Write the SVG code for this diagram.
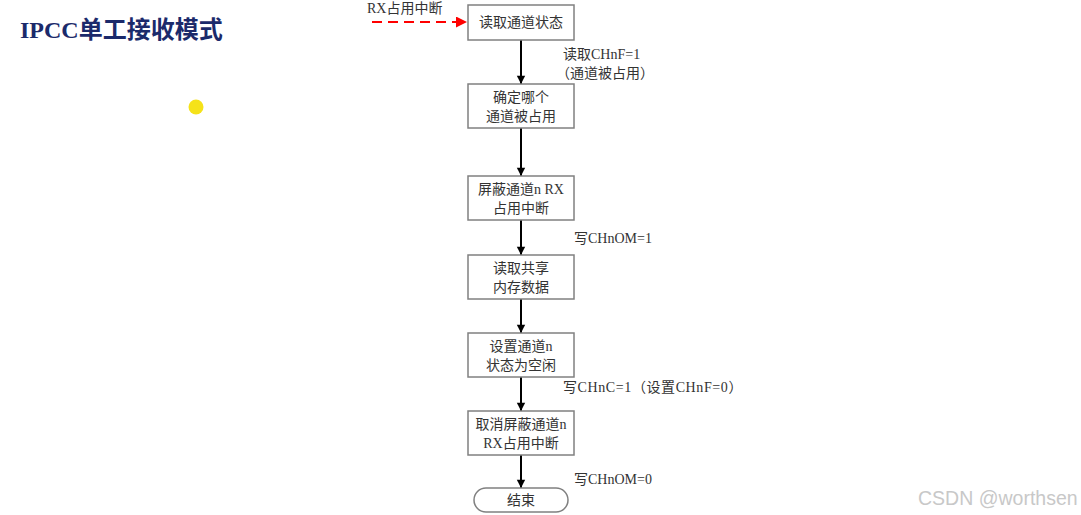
<svg xmlns="http://www.w3.org/2000/svg" width="1081" height="515" viewBox="0 0 1081 515">
<defs>
<marker id="ah" viewBox="0 0 10 12" refX="10" refY="6" markerWidth="12" markerHeight="10" markerUnits="userSpaceOnUse" orient="auto">
<path d="M0,1 L10,6 L0,11 z" fill="#000"/>
</marker>
<marker id="ahr" viewBox="0 0 10 10" refX="10" refY="5" markerWidth="11" markerHeight="11" markerUnits="userSpaceOnUse" orient="auto">
<path d="M0,0 L10,5 L0,10 z" fill="#f00"/>
</marker>
<style>
.box{fill:#fff;stroke:#808080;stroke-width:1.5}
.t{font-family:"Liberation Serif","Noto Sans CJK SC",serif;font-size:14px;fill:#333;text-anchor:middle}
.l{font-family:"Liberation Serif","Noto Sans CJK SC",serif;font-size:14px;fill:#333}
.c{stroke:#000;stroke-width:2;fill:none;marker-end:url(#ah)}
</style>
</defs>
<rect width="1081" height="515" fill="#fff"/>
<text x="20" y="38" font-family="Liberation Serif,'Noto Sans CJK SC',serif" font-size="24" font-weight="bold" fill="#1b2a6b">IPCC单工接收模式</text>
<circle cx="196" cy="107" r="7.5" fill="#f5e219"/>
<g id="connectors">
<line x1="372" y1="22" x2="467" y2="22" stroke="#f00" stroke-width="1.8" stroke-dasharray="10,6" marker-end="url(#ahr)"/>
<line class="c" x1="521" y1="40" x2="521" y2="84"/>
<line class="c" x1="521" y1="128" x2="521" y2="176"/>
<line class="c" x1="521" y1="220" x2="521" y2="255"/>
<line class="c" x1="521" y1="299" x2="521" y2="333"/>
<line class="c" x1="521" y1="377" x2="521" y2="411"/>
<line class="c" x1="521" y1="455" x2="521" y2="488"/>
</g>
<g id="labels">
<text class="l" x="367" y="13">RX占用中断</text>
<text class="l" x="563" y="59">读取CHnF=1</text>
<text class="l" x="556" y="78">（通道被占用）</text>
<text class="l" x="574" y="243">写CHnOM=1</text>
<text class="l" x="563" y="392" letter-spacing="0.6">写CHnC=1（设置CHnF=0）</text>
<text class="l" x="574" y="484">写CHnOM=0</text>
</g>
<g id="n1"><rect class="box" x="468" y="5" width="106" height="35"/><text class="t" x="521" y="27">读取通道状态</text></g>
<g id="n2"><rect class="box" x="468" y="84" width="106" height="44"/><text class="t" x="521" y="102">确定哪个</text><text class="t" x="521" y="121">通道被占用</text></g>
<g id="n3"><rect class="box" x="468" y="176" width="106" height="44"/><text class="t" x="521" y="194">屏蔽通道n RX</text><text class="t" x="521" y="213">占用中断</text></g>
<g id="n4"><rect class="box" x="468" y="255" width="106" height="44"/><text class="t" x="521" y="273">读取共享</text><text class="t" x="521" y="292">内存数据</text></g>
<g id="n5"><rect class="box" x="468" y="333" width="106" height="44"/><text class="t" x="521" y="351">设置通道n</text><text class="t" x="521" y="370">状态为空闲</text></g>
<g id="n6"><rect class="box" x="468" y="411" width="106" height="44"/><text class="t" x="521" y="429">取消屏蔽通道n</text><text class="t" x="521" y="448">RX占用中断</text></g>
<g id="n7"><rect class="box" x="474" y="488" width="94" height="24" rx="12"/><text class="t" x="521" y="505">结束</text></g>
<text x="918" y="505" font-family="Liberation Sans,Arial,sans-serif" font-size="19.5" fill="#c8c8c8">CSDN @worthsen</text>
</svg>
